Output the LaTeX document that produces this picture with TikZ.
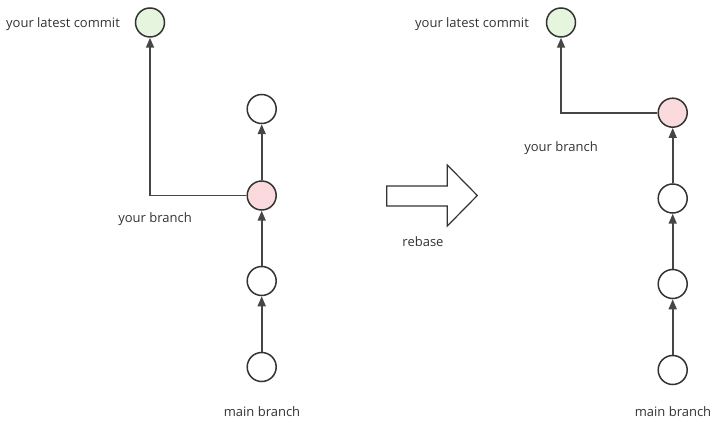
\documentclass[tikz,border=0pt]{standalone}
\usepackage{fontspec}
\setmainfont{Open Sans}
\usetikzlibrary{arrows.meta}
\definecolor{gfill}{RGB}{230,245,221}
\definecolor{pfill}{RGB}{250,218,221}
\definecolor{stroke}{RGB}{51,51,51}
\definecolor{edge}{RGB}{70,70,70}
\definecolor{txt}{RGB}{51,51,51}
\begin{document}
\begin{tikzpicture}[x=1pt,y=-1pt,
  commit/.style={circle,draw=stroke,line width=1.5pt,minimum size=29pt,inner sep=0pt,fill=white},
  latest/.style={commit,fill=gfill},
  branch/.style={commit,fill=pfill},
  lbl/.style={font=\fontsize{13}{15}\selectfont,text=txt,inner sep=0pt},
  link/.style={draw=edge,line width=1.7pt,-{Triangle[length=10pt,width=8pt]}}]
\useasboundingbox (0,0) rectangle (719,427);
% left
\node[latest] (lg) at (150,22.5) {};
\node[commit] (l1) at (261.7,109) {};
\node[branch] (lp) at (261.7,195.5) {};
\node[commit] (l2) at (261.7,281) {};
\node[commit] (l3) at (261.7,367) {};
\node[lbl] (tl1) at (63,24) {your latest commit};
\node[lbl] (tl2) at (155,219.5) {your branch};
\node[lbl] (tl3) at (262,411.5) {main branch};
\draw[link] (l3) -- (l2);
\draw[link] (l2) -- (lp);
\draw[link] (lp) -- (l1);
\draw[link] (lp.west) -| (lg.south);
% block arrow
\draw[draw=stroke,line width=1.2pt,fill=white] (386.7,186) -- (447.3,186) -- (447.3,165) -- (477.3,195.5) -- (447.3,226) -- (447.3,206) -- (386.7,206) -- cycle;
\node[lbl] (tr0) at (423,241.5) {rebase};
% right
\node[latest] (rg) at (561,22.5) {};
\node[branch] (rp) at (672.7,112.7) {};
\node[commit] (r1) at (672.7,198.5) {};
\node[commit] (r2) at (672.7,284) {};
\node[commit] (r3) at (672.7,370) {};
\node[lbl] (tr1) at (472,24) {your latest commit};
\node[lbl] (tr2) at (561,148) {your branch};
\node[lbl] (tr3) at (673,411.5) {main branch};
\draw[link] (r3) -- (r2);
\draw[link] (r2) -- (r1);
\draw[link] (r1) -- (rp);
\draw[link] (rp.west) -| (rg.south);
\end{tikzpicture}
\end{document}
